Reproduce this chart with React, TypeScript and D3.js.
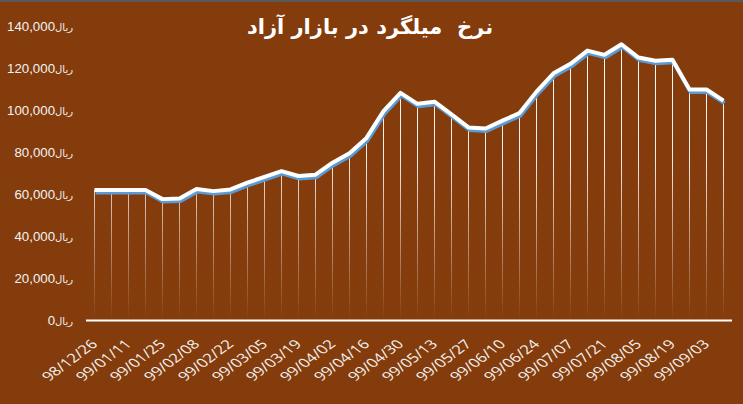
import React from "react";
import * as d3 from "d3";

const dates = [
  "98/12/26", "99/01/04", "99/01/11", "99/01/18", "99/01/25", "99/02/01",
  "99/02/08", "99/02/15", "99/02/22", "99/02/29", "99/03/05", "99/03/12",
  "99/03/19", "99/03/26", "99/04/02", "99/04/09", "99/04/16", "99/04/23",
  "99/04/30", "99/05/06", "99/05/13", "99/05/20", "99/05/27", "99/06/03",
  "99/06/10", "99/06/17", "99/06/24", "99/06/31", "99/07/07", "99/07/14",
  "99/07/21", "99/07/28", "99/08/05", "99/08/12", "99/08/19", "99/08/26",
  "99/09/03", "99/09/10",
];

const prices = [
  62000, 62000, 62000, 62000, 57700, 58000,
  62500, 61500, 62300, 65500, 68300, 71000,
  68700, 69300, 75000, 79500, 86800, 99500,
  108200, 103000, 104000, 98000, 91800, 91300,
  95000, 98600, 108800, 117500, 122000, 128300,
  126300, 131300, 125000, 123500, 124000, 109800,
  109800, 104500,
];

const yTicks = [0, 20000, 40000, 60000, 80000, 100000, 120000, 140000];

const title = "نرخ  میلگرد در بازار آزاد";

const W = 743;
const H = 404;
const bg = "#843c0c";
const textColor = "#f2f2f2";

export default function App() {
  const x = d3.scalePoint<string>().domain(dates).range([86, 732]).padding(0.5);
  const y = d3.scaleLinear().domain([0, 140000]).range([320.5, 26]);

  const line = d3
    .line<number>()
    .x((_, i) => x(dates[i]) as number)
    .y((d) => y(d));
  const path = line(prices) || "";
  const fmt = d3.format(",");

  return (
    <svg
      width={W}
      height={H}
      style={{ position: "absolute", left: 0, top: 0, display: "block" }}
    >
      <defs>
        <linearGradient id="drop" gradientUnits="userSpaceOnUse" x1="0" y1="30" x2="0" y2="320">
          <stop offset="0" stopColor="#ffffff" stopOpacity={1} />
          <stop offset="0.45" stopColor="#ffffff" stopOpacity={0.9} />
          <stop offset="1" stopColor="#ffffff" stopOpacity={0} />
        </linearGradient>
      </defs>
      <rect x={0} y={0} width={W} height={H} fill={bg} />
      <rect x={0} y={0} width={W} height={2} fill="#595959" />

      <text
        x={370}
        y={34}
        textAnchor="middle"
        fill="#ffffff"
        fontFamily="'DejaVu Sans', sans-serif"
        fontWeight="bold"
        fontSize={21}
        direction="rtl"
        style={{ whiteSpace: "pre" }}
      >
        {title}
      </text>

      {/* y axis labels */}
      {yTicks.map((t) => (
        <text
          key={t}
          x={73}
          y={y(t)}
          dy="0.36em"
          textAnchor="end"
          fill={textColor}
          fontFamily="'Liberation Sans', Arial, sans-serif"
          fontSize={13.3}
        >
          {fmt(t)}
          <tspan fontFamily="'DejaVu Sans', sans-serif" fontSize={10}>ریال</tspan>
        </text>
      ))}

      {/* drop lines */}
      {prices.map((v, i) => (
        <line
          key={dates[i]}
          x1={x(dates[i])}
          x2={x(dates[i])}
          y1={y(v)}
          y2={y(0)}
          stroke="url(#drop)"
          strokeWidth={1}
        />
      ))}

      {/* axis line */}
      <line x1={86} x2={732} y1={y(0)} y2={y(0)} stroke="#ffffff" strokeWidth={2} />

      {/* series with shadow */}
      <path
        d={path}
        transform="translate(1,2.5)"
        fill="none"
        stroke="#5b9bd5"
        strokeWidth={4}
        strokeLinejoin="round"
      />
      <path d={path} fill="none" stroke="#ffffff" strokeWidth={4} strokeLinejoin="round" />

      {/* x axis labels, every other category (stretched like the original) */}
      {dates.map((d, i) =>
        i % 2 === 0 ? (
          <text
            key={d}
            transform={`translate(${(x(d) as number) + 4},${345}) scale(1.35,1) rotate(-45)`}
            textAnchor="end"
            fill={textColor}
            fontFamily="'Open Sans', sans-serif"
            fontSize={12.5}
          >
            {d}
          </text>
        ) : null
      )}
    </svg>
  );
}
